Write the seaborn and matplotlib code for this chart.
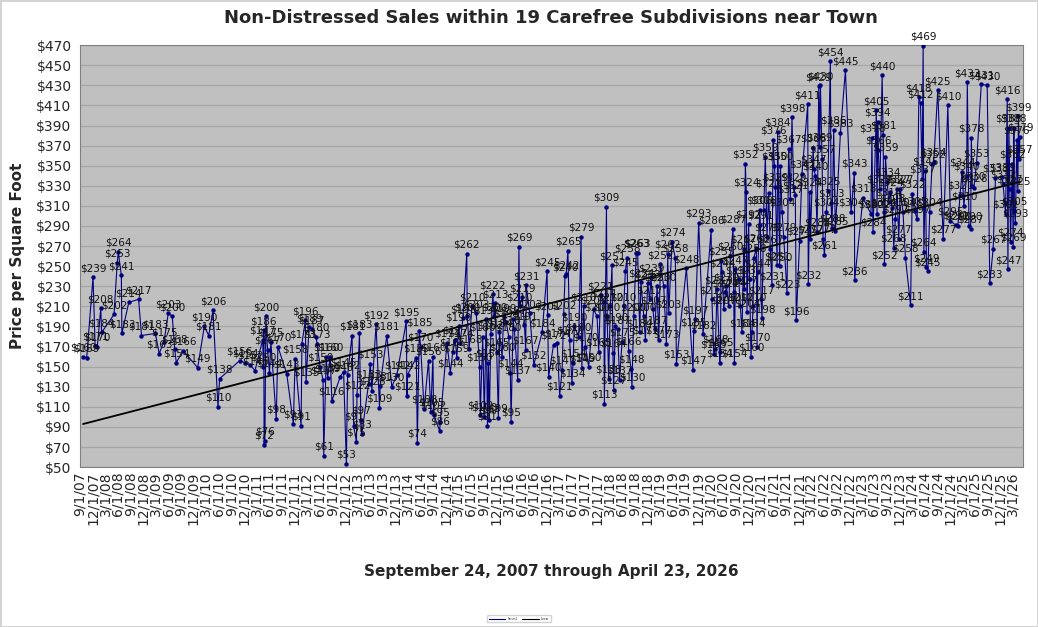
"""
Non-distressed sales, price per square foot, 19 Carefree subdivisions near Town.
Values read off the reference chart (Sep 2007 - Apr 2026).
"""

import pandas as pd
import matplotlib
matplotlib.use('Agg')
import matplotlib.pyplot as plt
import matplotlib.dates as mdates
from matplotlib.ticker import FuncFormatter, MultipleLocator
from matplotlib.lines import Line2D
import seaborn as sns

# Sale dates (MM-DD) and price per sq ft, grouped by year
sale_days = {
    2007: ["09-24", "10-20", "12-05", "12-20"],
    2008: ["01-05", "01-30", "02-05", "05-05", "05-28", "06-05", "06-27", "07-01", "08-20", "10-30", "11-20"],
    2009: ["03-01", "03-28", "05-02", "06-02", "07-01", "07-18", "07-30", "09-17"],
    2010: ["01-01", "02-18", "03-22", "04-22", "05-28", "06-09", "11-01", "12-10"],
    2011: ["01-15", "02-20", "04-17", "04-22", "04-25", "04-27", "05-03", "05-10", "05-22", "06-05",
           "06-15", "07-24", "08-05", "10-08", "11-25", "12-08"],
    2012: ["01-20", "01-26", "02-20", "02-25", "03-18", "04-07", "05-08", "05-14", "06-06", "06-27",
           "07-02", "07-20", "07-30", "08-18", "08-30", "10-30", "11-23", "12-13", "12-22"],
    2013: ["01-23", "02-04", "02-24", "02-28", "03-18", "03-28", "04-04", "05-23", "06-04", "06-16",
           "07-16", "08-10", "08-15", "10-02", "11-07", "12-14"],
    2014: ["02-20", "02-25", "03-01", "05-04", "05-11", "05-25", "06-04", "06-29", "07-31", "08-17",
           "09-01", "09-06", "10-20", "10-24", "12-12"],
    2015: ["01-05", "01-23", "02-10", "02-21", "03-07", "03-18", "04-06", "05-04", "05-08", "05-22",
           "06-10", "07-12", "08-05", "08-10", "08-28", "09-08", "09-22", "10-01", "10-08", "10-15",
           "10-25", "11-09", "11-18", "11-25", "12-07", "12-19", "12-27"],
    2016: ["01-15", "01-26", "02-14", "03-03", "03-15", "03-20", "04-04", "04-13", "05-07", "05-16",
           "05-21", "06-08", "06-25", "07-04", "07-08", "08-02", "09-01", "10-31", "12-06", "12-10",
           "12-17"],
    2017: ["01-22", "02-17", "03-07", "03-25", "04-05", "04-15", "04-23", "05-06", "05-18", "06-04",
           "06-12", "06-21", "07-23", "08-09", "08-15", "08-28", "09-10", "10-03", "11-08", "12-03",
           "12-15", "12-28"],
    2018: ["01-21", "01-25", "02-09", "02-14", "02-25", "03-09", "03-21", "03-28", "04-02", "04-14",
           "05-01", "05-15", "06-02", "06-14", "06-26", "07-08", "07-20", "08-06", "08-13", "08-25",
           "09-13", "09-23", "10-08", "10-17", "11-06", "11-18", "12-05", "12-19", "12-29"],
    2019: ["01-12", "01-25", "02-11", "02-23", "03-07", "03-31", "04-19", "04-29", "05-06", "05-30",
           "06-23", "07-01", "09-11", "10-29", "11-03", "11-15", "12-09"],
    2020: ["01-10", "03-08", "03-14", "03-27", "04-08", "04-20", "05-10", "05-15", "05-19", "05-27",
           "06-08", "06-20", "06-27", "07-14", "07-26", "08-14", "08-19", "08-24", "08-31", "09-24",
           "10-06", "10-18", "10-30", "11-04", "11-11", "11-18", "11-23", "12-05", "12-12", "12-22",
           "12-29"],
    2021: ["01-06", "01-11", "01-30", "02-04", "02-09", "02-23", "02-28", "03-05", "03-12", "03-24",
           "04-05", "04-17", "04-29", "05-11", "05-23", "05-31", "06-10", "06-17", "06-29", "07-03",
           "07-18", "07-23", "08-04", "08-16", "09-09", "09-21", "10-03", "10-15", "10-27", "11-08",
           "11-15", "12-09", "12-26"],
    2022: ["02-06", "02-10", "02-21", "02-26", "03-17", "03-22", "04-03", "04-15", "04-27", "05-04",
           "05-09", "05-21", "05-28", "06-07", "06-21", "07-01", "07-20", "07-25", "08-01", "08-13",
           "08-25", "10-01", "11-06", "12-17"],
    2023: ["01-10", "01-12", "03-13", "05-10", "05-17", "05-25", "06-18", "06-23", "06-28", "07-02",
           "07-13", "07-30", "08-06", "08-11", "08-16", "08-23", "09-04", "09-16", "09-28", "10-10",
           "10-22", "11-03", "11-15", "11-27", "12-09", "12-28"],
    2024: ["01-15", "02-21", "03-04", "03-21", "04-09", "04-21", "05-03", "05-15", "05-22", "05-27",
           "06-08", "06-15", "06-25", "07-09", "07-26", "08-07", "09-05", "10-14", "11-17", "12-06"],
    2025: ["01-12", "01-29", "02-13", "03-01", "03-13", "04-02", "04-07", "04-19", "05-01", "05-06",
           "05-13", "05-25", "06-13", "07-17", "08-29", "09-17", "10-11", "10-28", "12-15", "12-22"],
    2026: ["01-09", "01-21", "01-26", "02-02", "02-09", "02-14", "02-27", "03-05", "03-10", "03-14",
           "03-21", "04-01", "04-08", "04-12", "04-18", "04-23"],
}

price_psf = {
    2007: [160, 159, 239, 171],
    2008: [170, 208, 184, 202, 253, 264, 241, 183, 214, 217, 181],
    2009: [183, 163, 175, 203, 200, 168, 154, 166],
    2010: [149, 190, 181, 206, 110, 138, 156, 154],
    2011: [152, 146, 177, 150, 186, 72, 76, 200, 167, 144,
           175, 98, 170, 143, 93, 158],
    2012: [91, 173, 196, 135, 189, 187, 180, 173, 150, 137,
           61, 160, 139, 160, 116, 140, 145, 53, 142],
    2013: [181, 91, 75, 122, 183, 97, 83, 133, 153, 126,
           192, 109, 131, 181, 130, 142],
    2014: [195, 121, 142, 159, 74, 185, 170, 108, 156, 105,
           160, 102, 86, 95, 174],
    2015: [144, 165, 177, 159, 190, 174, 198, 262, 200, 168,
           210, 203, 150, 102, 180, 100, 197, 91, 154, 97,
           182, 222, 200, 213, 165, 99, 184],
    2016: [160, 199, 194, 180, 144, 95, 197, 187, 137, 269,
           210, 219, 191, 167, 231, 203, 152, 184, 245, 201,
           140],
    2017: [172, 174, 121, 147, 202, 240, 242, 265, 177, 134,
           154, 190, 180, 279, 149, 210, 170, 150, 207, 200,
           165, 221],
    2018: [214, 113, 309, 200, 138, 210, 251, 164, 127, 190,
           187, 137, 175, 210, 245, 258, 166, 148, 130, 200,
           263, 263, 184, 234, 200, 177, 233, 217, 239],
    2019: [207, 187, 230, 177, 252, 230, 173, 262, 203, 274,
           258, 153, 248, 147, 185, 197, 293],
    2020: [182, 286, 217, 163, 168, 227, 154, 165, 255, 244,
           207, 224, 230, 210, 260, 287, 224, 154, 247, 237,
           210, 184, 267, 227, 352, 324, 204, 292, 237, 160,
           184],
    2021: [210, 258, 268, 170, 244, 306, 291, 217, 198, 306,
           359, 279, 323, 267, 231, 376, 350, 329, 251, 384,
           250, 350, 304, 279, 223, 367, 317, 398, 329, 321,
           196, 275, 342],
    2022: [411, 232, 324, 277, 368, 347, 340, 284, 429, 369,
           430, 357, 277, 261, 304, 325, 454, 313, 288, 386,
           285, 383, 445, 304],
    2023: [343, 236, 318, 302, 378, 284, 405, 302, 394, 366,
           327, 440, 381, 304, 252, 359, 334, 314, 324, 308,
           268, 297, 327, 277, 327, 304],
    2024: [258, 211, 322, 305, 297, 418, 412, 337, 469, 264,
           345, 249, 245, 304, 352, 354, 425, 277, 410, 295],
    2025: [291, 290, 321, 344, 310, 340, 433, 290, 287, 378,
           330, 328, 353, 431, 430, 233, 267, 338, 339, 332],
    2026: [302, 416, 247, 388, 327, 274, 352, 269, 388, 305,
           293, 376, 325, 399, 357, 379],
}

TITLE = 'Non-Distressed Sales within 19 Carefree Subdivisions near Town'
X_LABEL = 'September 24, 2007 through April 23, 2026'
Y_LABEL = 'Price per Square Foot'
Y_TICKS = list(range(50, 471, 20))
X_START, X_END = '2007-09-01', '2026-05-15'

NAVY = '#000080'
PLOT_BG = '#C0C0C0'

# Build the table
rows = []
for year, days in sale_days.items():
    for day, price in zip(days, price_psf[year]):
        rows.append((pd.Timestamp(f"{year}-{day}"), price))
df = pd.DataFrame(rows, columns=['date', 'price']).sort_values('date')
df['num'] = mdates.date2num(df['date'])

sns.set_theme(style='white')
plt.rcParams['font.family'] = ['DejaVu Sans']

fig = plt.figure(figsize=(10.38, 6.27), dpi=100)
fig.patch.set_facecolor('white')
fig.patch.set_edgecolor('#d4d4d4')
fig.patch.set_linewidth(2)
ax = fig.add_axes([0.077, 0.255, 0.9085, 0.673])
ax.set_facecolor(PLOT_BG)

# horizontal grid
for y in Y_TICKS:
    ax.axhline(y, color='#a6a6a6', lw=0.9, zorder=0)

# sales series
sns.lineplot(data=df, x='num', y='price', ax=ax, color=NAVY, lw=0.8,
             marker='o', markersize=3.2, markeredgewidth=0, sort=True,
             estimator=None, zorder=3)

# linear trendline
sns.regplot(data=df, x='num', y='price', ax=ax, scatter=False, ci=None,
            truncate=True, line_kws=dict(color='black', lw=1.3, zorder=4))

# data labels
for xn, v in zip(df['num'], df['price']):
    ax.annotate(f"${v}", (xn, v), xytext=(0, 3), textcoords='offset points',
                ha='center', va='bottom', fontsize=7.5, color='#111111', zorder=5)

ax.set_ylim(50, 470)
ax.set_yticks(Y_TICKS)
ax.yaxis.set_major_formatter(FuncFormatter(lambda v, p: f"${int(v)}"))

ax.set_xlim(mdates.datestr2num(X_START), mdates.datestr2num(X_END))
ticks = pd.date_range(X_START, '2026-03-01', freq='3MS')
ax.set_xticks(mdates.date2num(ticks))
ax.set_xticklabels([f"{d.month}/{d.day}/{d:%y}" for d in ticks], rotation=90)

ax.tick_params(axis='x', direction='in', length=4, color='#808080', labelsize=10, pad=3)
ax.tick_params(axis='y', length=0, labelsize=10, pad=6)

for s in ax.spines.values():
    s.set_color('#808080')
    s.set_linewidth(0.8)

ax.set_xlabel(X_LABEL, fontsize=11, fontweight='bold', labelpad=28)
ax.set_ylabel(Y_LABEL, fontsize=11, fontweight='bold', labelpad=8)
ax.set_title(TITLE, fontsize=13, fontweight='bold', pad=16)

# small legend box at the bottom
handles = [Line2D([], [], color=NAVY, lw=0.8), Line2D([], [], color='black', lw=0.8)]
fig.legend(handles, ['Series1', 'Linear'], loc='lower center', ncol=2,
           bbox_to_anchor=(0.5, 0.005), fontsize=2, frameon=True,
           handlelength=6, columnspacing=1.5, borderpad=0.6, edgecolor='#c8c8c8')

fig.savefig('out.png', dpi=100, facecolor=fig.get_facecolor(), edgecolor=fig.get_edgecolor())
